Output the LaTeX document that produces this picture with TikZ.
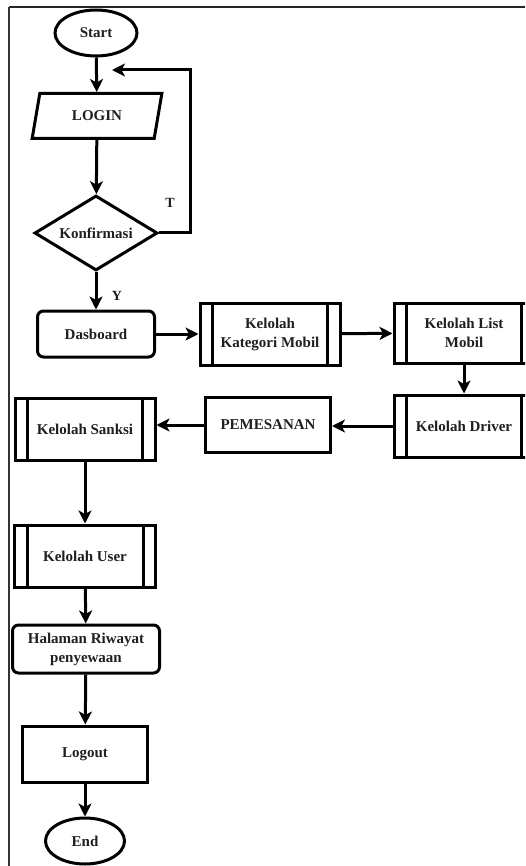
\documentclass[tikz,border=0pt]{standalone}
\usepackage{fontspec}
\setmainfont{Liberation Serif}
\usetikzlibrary{shapes.geometric,arrows.meta}
\begin{document}
\begin{tikzpicture}[x=1pt,y=-1pt,
  every node/.style={font=\fontsize{15}{19}\selectfont\bfseries, align=center, inner sep=0pt, text=black!88},
  box/.style={draw, line width=3pt, rectangle, minimum width=#1},
  rbox/.style={draw, line width=3pt, rectangle, rounded corners=6pt, minimum width=#1},
  sub/.style={draw, line width=3pt, rectangle, minimum width=140pt, minimum height=62pt},
  term/.style={draw, line width=3pt, ellipse, minimum width=#1, minimum height=46pt},
  arr/.style={line width=3pt, -{Stealth[length=13pt,width=13pt,inset=3.5pt]}},
  lbl/.style={font=\fontsize{14}{16}\selectfont\bfseries}
]
\useasboundingbox (0,0) rectangle (525,866);
\clip (0,0) rectangle (525,866);
% frame
\draw[line width=2.2pt, color=black!85] (9,7) -- (530,7);
\draw[line width=1.5pt, color=black!80] (9,7) -- (9,870);

\node[term=82pt] (start) at (96,33) {Start};
\node[draw, line width=3pt, trapezium, trapezium left angle=71.6, trapezium right angle=108.4,
      trapezium stretches=true, minimum width=130pt, minimum height=45pt] (login) at (97,116) {LOGIN};
\node[draw, line width=3pt, diamond, minimum width=123pt, minimum height=75pt, aspect=1.64] (konf) at (96,233) {Konfirmasi};
\node[rbox=117pt, minimum height=46pt] (dash) at (96,334) {Dasboard};
\node[sub] (kat) at (270,334) {Kelolah\\Kategori Mobil};
\node[sub, minimum height=60pt] (list) at (464,333) {Kelolah List\\Mobil};
\node[sub] (drv) at (464,426) {Kelolah Driver};
\node[box=125pt, minimum height=55pt] (pem) at (268,425) {PEMESANAN};
\node[sub] (sank) at (85,429) {Kelolah Sanksi};
\node[sub, minimum width=141pt] (user) at (85,556) {Kelolah User};
\node[rbox=147pt, minimum height=48pt] (hal) at (86,649) {Halaman Riwayat\\penyewaan};
\node[box=125pt, minimum height=56pt] (logout) at (85,754) {Logout};
\node[term=79pt] (end) at (85,841) {End};

% subprocess inner lines
\foreach \n in {kat,list,drv,sank,user}{
  \draw[line width=3pt] ([xshift=14pt]\n.north west) -- ([xshift=14pt]\n.south west);
  \draw[line width=3pt] ([xshift=-14pt]\n.north east) -- ([xshift=-14pt]\n.south east);
}

% connectors
\coordinate (lp) at (190,70);
\coordinate (tl) at (112,70);
\draw[arr] (start) -- (login);
\draw[arr] (login) -- (konf);
\draw[arr] (konf.east) -| (lp) -- (tl);
\node[lbl] (tlab) at (170,203) {T};
\draw[arr] (konf) -- (dash);
\node[lbl] (ylab) at (117,296) {Y};
\draw[arr] (dash) -- (kat);
\draw[arr] (kat) -- (list);
\draw[arr] (list) -- (drv);
\draw[arr] (drv.west) -- (drv.west -| pem.east);
\draw[arr] (pem.west) -- (pem.west -| sank.east);
\draw[arr] (sank) -- (user);
\draw[arr] (user) -- (hal);
\draw[arr] (hal) -- (logout);
\draw[arr] (logout) -- (end);
\end{tikzpicture}
\end{document}
